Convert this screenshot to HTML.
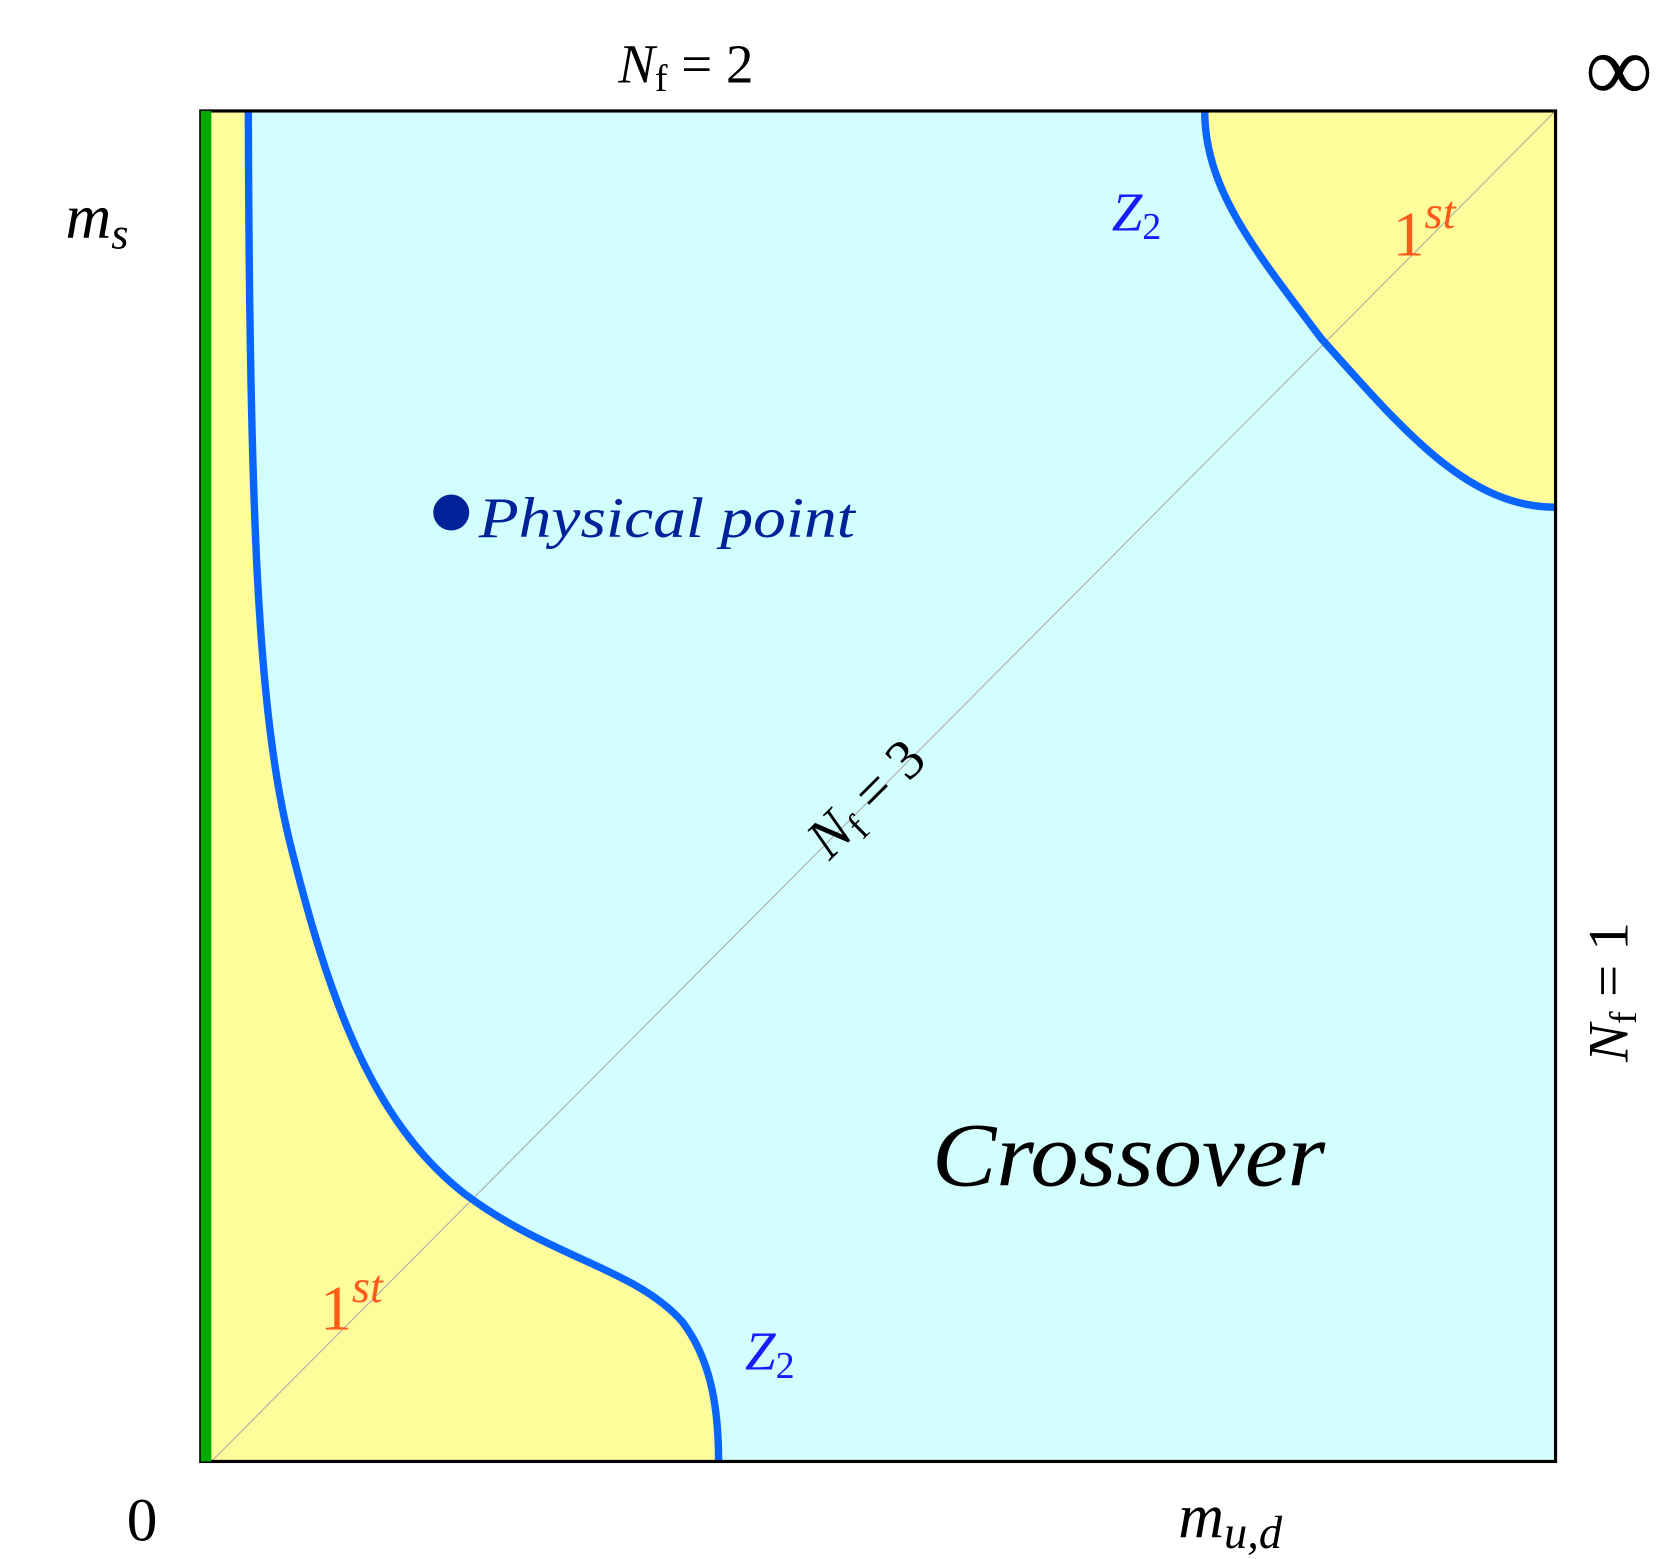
<!DOCTYPE html>
<html><head><style>body{margin:0;background:#fff}svg{display:block}</style></head><body>
<svg width="1657" height="1559" viewBox="0 0 1568 1475.3" preserveAspectRatio="none" xmlns="http://www.w3.org/2000/svg" font-family="Liberation Serif, serif">
<rect x="190" y="105" width="1282" height="1278" fill="#d3fefe"/>
<path d="M190,105 L235,105 C236,500 245,680 275,800 C310,940 350,1060 440,1130 C520,1190 600,1200 645,1250 C672,1285 680,1330 680,1383 L190,1383 Z" fill="#fefc9b"/>
<path d="M1140,105 C1140,180 1190,240 1250,320 C1330,410 1390,480 1472,480 L1472,105 Z" fill="#fefc9b"/>
<line x1="200" y1="1383" x2="1472" y2="105" stroke="#aaa" stroke-width="1"/>
<path d="M235,105 C236,500 245,680 275,800 C310,940 350,1060 440,1130 C520,1190 600,1200 645,1250 C672,1285 680,1330 680,1383" fill="none" stroke="#0a64ff" stroke-width="7"/>
<path d="M1140,105 C1140,180 1190,240 1250,320 C1330,410 1390,480 1472,480" fill="none" stroke="#0a64ff" stroke-width="7"/>
<rect x="190" y="105" width="1282" height="1278" fill="none" stroke="#000" stroke-width="3"/>
<rect x="190" y="105" width="10" height="1278" fill="#00aa00"/>
<text x="585" y="78" font-size="52" font-style="italic">N<tspan font-style="normal" font-size="36" dy="8">f</tspan><tspan font-style="normal" dy="-8"> = 2</tspan></text>
<text x="1500" y="95" font-size="90">∞</text>
<text x="62" y="225" font-size="60" font-style="italic">m<tspan font-size="42" dy="10">s</tspan></text>
<text x="120" y="1458" font-size="58">0</text>
<text x="1115" y="1455" font-size="60" font-style="italic">m<tspan font-size="44" dy="10">u,d</tspan></text>
<text transform="translate(1540,1005) rotate(-90)" font-size="54" font-style="italic">N<tspan font-style="normal" font-size="36" dy="8">f</tspan><tspan font-style="normal" dy="-8"> = 1</tspan></text>
<text transform="translate(785,815) rotate(-45)" font-size="54" font-style="italic">N<tspan font-style="normal" font-size="36" dy="8">f</tspan><tspan font-style="normal" dy="-8"> = 3</tspan></text>
<text x="1052" y="218" font-size="52" font-style="italic" fill="#1a1aff">Z<tspan font-style="normal" font-size="36" dy="8">2</tspan></text>
<text x="705" y="1296" font-size="52" font-style="italic" fill="#1a1aff">Z<tspan font-style="normal" font-size="36" dy="8">2</tspan></text>
<text x="1318" y="242" font-size="60" fill="#ff5a1a">1<tspan font-style="italic" font-size="44" dy="-26">st</tspan></text>
<text x="303" y="1258" font-size="60" fill="#ff5a1a">1<tspan font-style="italic" font-size="44" dy="-26">st</tspan></text>
<circle cx="427" cy="485" r="17" fill="#002299"/>
<text x="453" y="508" font-size="54" font-style="italic" fill="#002299" textLength="356" lengthAdjust="spacingAndGlyphs">Physical point</text>
<text x="882" y="1122" font-size="86" font-style="italic" textLength="372" lengthAdjust="spacingAndGlyphs">Crossover</text>
</svg>
</body></html>
